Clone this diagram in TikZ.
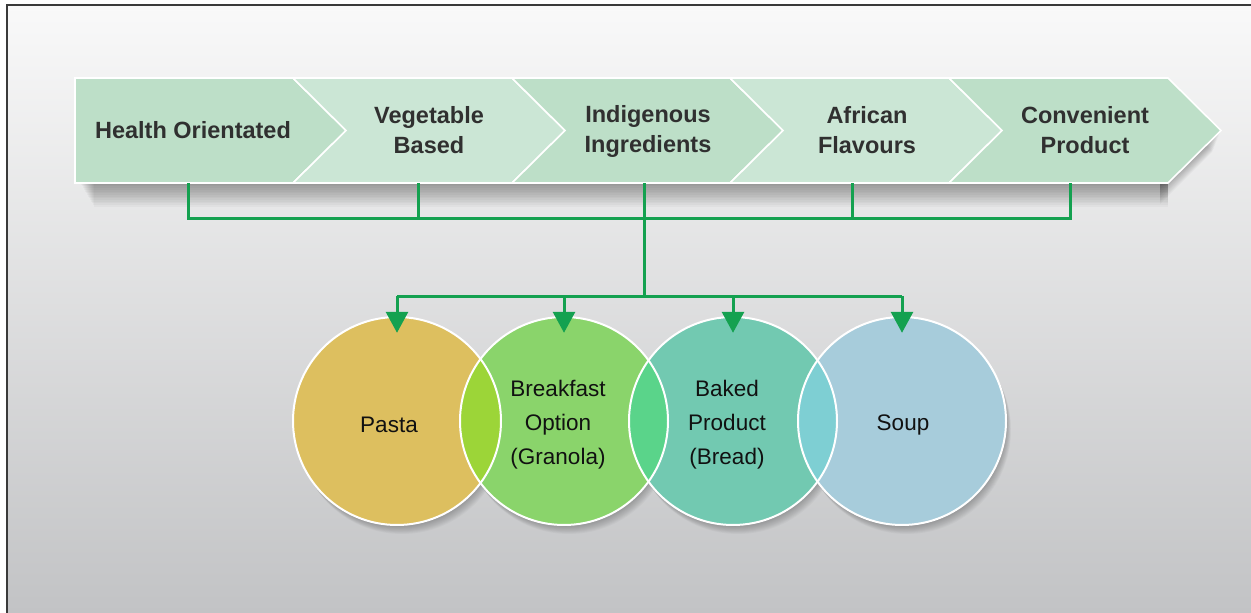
\documentclass[tikz,border=0pt]{standalone}
\usepackage{fontspec}
\setmainfont{Liberation Sans}
\usetikzlibrary{arrows.meta,calc}

\definecolor{bgtop}{HTML}{F9F9F9}
\definecolor{bgmid}{HTML}{E3E3E4}
\definecolor{bgbot}{HTML}{C2C3C5}
\definecolor{framegray}{HTML}{3A3A3A}
\definecolor{chevA}{HTML}{BDDFC8}
\definecolor{chevB}{HTML}{CBE6D5}
\definecolor{linkgreen}{HTML}{14A150}
\definecolor{titlegray}{HTML}{303030}
\definecolor{pastaC}{HTML}{DDBF5F}
\definecolor{brkC}{HTML}{8AD46B}
\definecolor{bakedC}{HTML}{72C9B1}
\definecolor{soupC}{HTML}{A7CCDB}
\definecolor{ovA}{HTML}{9CD538}
\definecolor{ovB}{HTML}{5AD48A}
\definecolor{ovC}{HTML}{7ECFD3}
\definecolor{bodytext}{HTML}{111111}

% one arrow-shaped band: #1 options, #2 left x, #3 right x, #4 depth of the left notch
\newcommand\chevband[4]{%
  \path[#1] (#2,78) -- (#3,78) -- ({#3+53},130.5) -- (#3,183) -- (#2,183) -- ({#2+#4},130.5) -- cycle;}

\tikzset{
  softshade/.style={fill=black, opacity=0.028},
  chevfill/.style={fill=#1, draw=white, line width=1.6},
  title/.style={font=\bfseries\fontsize{23.5}{30}\selectfont, text=titlegray,
      align=center, inner sep=0},
  bubble/.style={circle, minimum size=208, inner sep=0, fill=#1},
  label/.style={font=\fontsize{22.5}{34}\selectfont, text=bodytext,
      align=center, inner sep=0},
  link/.style={draw=linkgreen, line width=3},
  drop/.style={link, -{Triangle[width=22pt,length=21pt]}},
}

\begin{document}
\begin{tikzpicture}[x=1pt,y=-1pt]
\useasboundingbox (0,0) rectangle (1251,613);
% page and frame
\fill[white] (0,0) rectangle (1251,613);
\shade[top color=bgtop, middle color=bgmid, bottom color=bgbot] (7,5) rectangle (1251,613);
\draw[framegray, line width=2.5] (7,613) -- (7,5) -- (1251,5);

% soft shadow under the band, built from stacked translucent strips
\foreach \i in {1,...,14}{
  \fill[softshade] ({80+\i},183) rectangle ({1168},{183+1.7*\i});
  \fill[softshade] (1160,{78+1.5*\i}) -- ({1221-0.6*\i},{130.5+1.5*\i})
                   -- (1160,{183+1.5*\i}) -- cycle;
}
% the band
\chevband{chevfill=chevA}{75}{293}{0}
\chevband{chevfill=chevB}{293}{512}{53}
\chevband{chevfill=chevA}{512}{730}{53}
\chevband{chevfill=chevB}{730}{949}{53}
\chevband{chevfill=chevA}{949}{1168}{53}

\node[title] (t1) at (193,130.5) {Health Orientated};
\node[title] (t2) at (429,130.5) {Vegetable\\Based};
\node[title] (t3) at (648,131.5) {Indigenous\\Ingredients};
\node[title] (t4) at (867,130.5) {African\\Flavours};
\node[title] (t5) at (1085,130.5) {Convenient\\Product};

% feet of the band, where the connectors start
\coordinate (d1) at (188,183);
\coordinate (d2) at (418,183);
\coordinate (d3) at (644,183);
\coordinate (d4) at (852,183);
\coordinate (d5) at (1070,183);
\coordinate (bus) at (644,218);
\coordinate (hub) at (644,296);

% circles: soft shadows first
\foreach \cx in {397,564,733,902}
  \foreach \i in {1,...,10}
    \fill[softshade] ({\cx+0.5*\i},{421+0.9*\i}) circle[radius=104];
\node[bubble=pastaC] (pasta) at (397,421) {};
\node[bubble=brkC] (brk) at (564,421) {};
\node[bubble=bakedC] (baked) at (733,421) {};
\node[bubble=soupC] (soup) at (902,421) {};
% overlaps
\begin{scope}
  \clip (pasta.center) circle[radius=104];
  \fill[ovA] (brk.center) circle[radius=104];
\end{scope}
\begin{scope}
  \clip (brk.center) circle[radius=104];
  \fill[ovB] (baked.center) circle[radius=104];
\end{scope}
\begin{scope}
  \clip (baked.center) circle[radius=104];
  \fill[ovC] (soup.center) circle[radius=104];
\end{scope}
\foreach \n in {pasta,brk,baked,soup}
  \draw[white, line width=2] (\n.center) circle[radius=104];

\node[label] (lpasta) at (389,425) {Pasta};
\node[label] (lbrk) at (558,425) {Breakfast\\Option\\(Granola)};
\node[label] (lbaked) at (727,425) {Baked\\Product\\(Bread)};
\node[label] (lsoup) at (903,425) {Soup};

% connectors
\draw[link] (d1) -- (d1 |- bus) -- (d5 |- bus) -- (d5);
\draw[link] (d2) -- (d2 |- bus);
\draw[link] (d4) -- (d4 |- bus);
\draw[link] (d3) -- (hub);
\draw[link] (hub -| pasta.north) -- (hub -| soup.north);
\foreach \n in {pasta,brk,baked,soup}
  \draw[drop] (hub -| \n.north) -- ($(\n.north)+(0,16)$);
\end{tikzpicture}
\end{document}
